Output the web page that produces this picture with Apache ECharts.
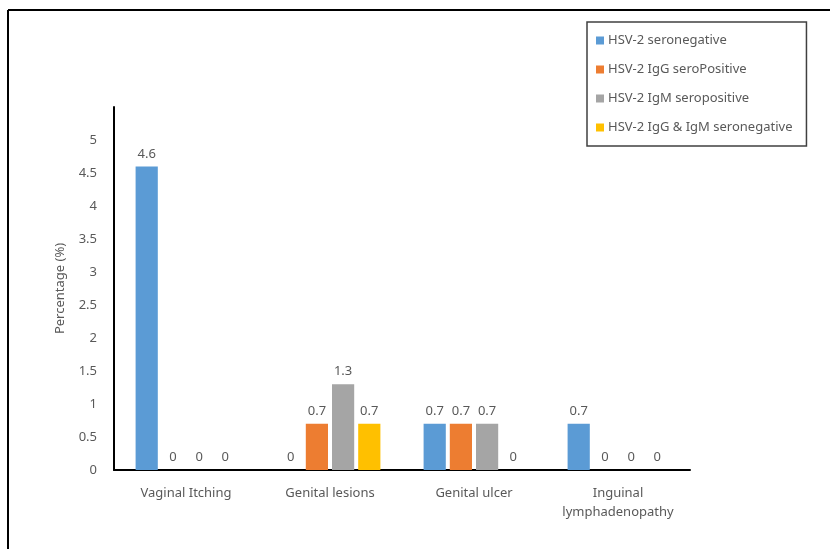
<!DOCTYPE html>
<html>
<head>
<meta charset="utf-8">
<script src="https://cdn.jsdelivr.net/npm/echarts@6/dist/echarts.min.js"></script>
<style>
  html, body { margin: 0; padding: 0; background: #fff; }
  #chart { width: 830px; height: 549px; }
</style>
</head>
<body>
<div id="chart"></div>
<script>
// Symptom categories along the x axis
const categories = ['Vaginal Itching', 'Genital lesions', 'Genital ulcer', 'Inguinal\nlymphadenopathy'];

// Percentage of each serostatus group reporting the symptom
const seronegative = [4.6, 0, 0.7, 0.7];
const iggSeropositive = [0, 0.7, 0.7, 0];
const igmSeropositive = [0, 1.3, 0.7, 0];
const iggIgmSeronegative = [0, 0.7, 0, 0];

const seriesNames = [
  'HSV-2 seronegative',
  'HSV-2 IgG seroPositive',
  'HSV-2 IgM seropositive',
  'HSV-2 IgG & IgM seronegative'
];
const seriesData = [seronegative, iggSeropositive, igmSeropositive, iggIgmSeronegative];
const colors = ['#5B9BD5', '#ED7D31', '#A5A5A5', '#FFC000'];

const FONT = 'Noto Sans';
const TEXT = '#595959';

const chart = echarts.init(document.getElementById('chart'));
chart.setOption({
  animation: false,
  textStyle: { fontFamily: FONT },
  color: colors,
  graphic: [
    // outer frame (top and left edges)
    { type: 'line', shape: { x1: 8, y1: 10, x2: 830, y2: 10 }, style: { stroke: '#000', lineWidth: 2 } },
    { type: 'line', shape: { x1: 8, y1: 10, x2: 8, y2: 549 }, style: { stroke: '#000', lineWidth: 2 } }
  ],
  legend: {
    orient: 'vertical',
    left: 587,
    top: 22,
    itemWidth: 8,
    itemHeight: 8,
    itemGap: 16,
    padding: [12, 14, 12, 9],
    borderColor: '#404040',
    borderWidth: 1.5,
    icon: 'rect',
    textStyle: { color: TEXT, fontSize: 13, fontFamily: FONT, padding: [0, 0, 0, -1] },
    data: seriesNames
  },
  grid: { left: 114, right: 140, top: 107, bottom: 79, containLabel: false },
  xAxis: {
    type: 'category',
    data: categories,
    axisLine: { lineStyle: { color: '#000', width: 2 } },
    axisTick: { show: false },
    axisLabel: { interval: 0, color: TEXT, fontSize: 13, margin: 14, lineHeight: 19, fontFamily: FONT }
  },
  yAxis: {
    type: 'value',
    min: 0,
    max: 5.5,
    interval: 0.5,
    name: 'Percentage (%)',
    nameLocation: 'middle',
    nameGap: 47,
    nameTextStyle: { color: TEXT, fontSize: 13, fontFamily: FONT },
    axisLine: { show: true, lineStyle: { color: '#000', width: 2 } },
    axisTick: { show: false },
    splitLine: { show: false },
    axisLabel: {
      color: TEXT, fontSize: 13, margin: 17, fontFamily: FONT,
      formatter: v => (v > 5 ? '' : String(v))
    }
  },
  series: seriesNames.map((name, i) => ({
    name,
    type: 'bar',
    data: seriesData[i],
    barGap: '18%',
    barCategoryGap: '30%',
    label: {
      show: true,
      position: 'top',
      distance: 6,
      color: TEXT,
      fontSize: 13,
      fontFamily: FONT
    }
  }))
});
</script>
</body>
</html>
